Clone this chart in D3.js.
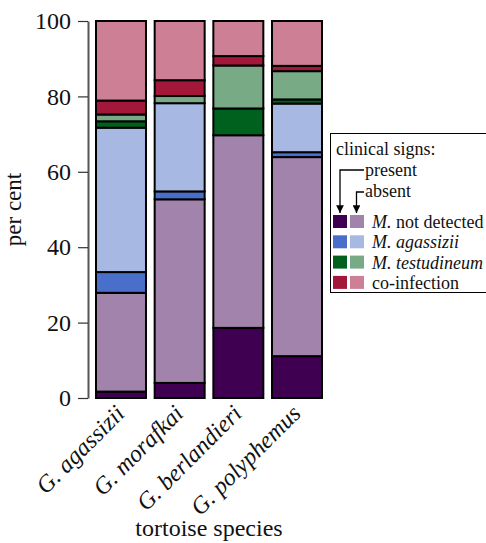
<!DOCTYPE html>
<html>
<head>
<meta charset="utf-8">
<script src="https://cdn.jsdelivr.net/npm/d3@7"></script>
<style>
  body { margin: 0; background: #fff; }
  svg, svg text { font-family: "Liberation Serif", "Times New Roman", Times, serif; }
</style>
</head>
<body>
<div id="chart"></div>
<script>
// species on the x axis
const species = ["G. agassizii", "G. morafkai", "G. berlandieri", "G. polyphemus"];

// per cent of tortoises in each group, bottom to top
const ndPresent = [1.7, 4.0, 18.6, 11.1];
const ndAbsent  = [26.2, 48.7, 51.1, 52.8];
const agPresent = [5.5, 2.1, 0, 1.3];
const agAbsent  = [38.3, 23.4, 0, 12.9];
const tePresent = [1.7, 0, 7.1, 1.1];
const teAbsent  = [1.8, 1.9, 11.4, 7.5];
const coPresent = [3.7, 4.2, 2.5, 1.4];
const coAbsent  = [21.1, 15.7, 9.3, 11.9];

const yTicks = [0, 20, 40, 60, 80, 100];

const keys = ["ndP", "ndA", "agP", "agA", "teP", "teA", "coP", "coA"];
const colors = {
  ndP: "#3f0052", ndA: "#a283ab",
  agP: "#4a6fca", agA: "#a7b9e3",
  teP: "#00611f", teA: "#79aa86",
  coP: "#a3173a", coA: "#cd8095"
};

// build table for d3.stack
const table = species.map((s, i) => ({
  species: s,
  ndP: ndPresent[i], ndA: ndAbsent[i],
  agP: agPresent[i], agA: agAbsent[i],
  teP: tePresent[i], teA: teAbsent[i],
  coP: coPresent[i], coA: coAbsent[i]
}));

const svg = d3.select("#chart").append("svg").attr("width", 486).attr("height", 543);

const x = d3.scaleBand().domain(species).range([96, 322]).paddingInner(0.148).paddingOuter(0);
const y = d3.scaleLinear().domain([0, 100]).range([398, 21]);

const stacked = d3.stack().keys(keys)(table);

// bars
svg.append("g").selectAll("g")
  .data(stacked)
  .join("g")
  .attr("fill", d => colors[d.key])
  .selectAll("rect")
  .data(d => d.filter(v => v[1] - v[0] > 0))
  .join("rect")
  .attr("x", d => x(d.data.species))
  .attr("width", x.bandwidth())
  .attr("y", d => y(d[1]))
  .attr("height", d => y(d[0]) - y(d[1]))
  .attr("stroke", "#000")
  .attr("stroke-width", 2);

// y axis
const yAxis = d3.axisLeft(y).tickValues(yTicks).tickSize(10).tickSizeOuter(0).tickPadding(7);
const yg = svg.append("g").attr("transform", "translate(88,0)").call(yAxis);
yg.attr("font-family", null);
yg.select(".domain").attr("stroke", "#555").attr("stroke-width", 2);
yg.selectAll(".tick line").attr("stroke", "#333").attr("stroke-width", 1.2);
yg.selectAll(".tick text")
  .attr("font-size", 24)
  .attr("fill", "#111");

svg.append("text")
  .attr("transform", "translate(21," + y(50) + ") rotate(-90)")
  .attr("text-anchor", "middle")
  .attr("font-size", 23)
  .attr("fill", "#111")
  .text("per cent");

// x labels, rotated
svg.append("g").selectAll("text")
  .data(species)
  .join("text")
  .attr("transform", d => "translate(" + (x(d) + x.bandwidth() / 2 + 5) + ",415) rotate(-45)")
  .attr("text-anchor", "end")
  .attr("font-size", 24)
  .attr("font-style", "italic")
  .attr("fill", "#111")
  .text(d => d);

svg.append("text")
  .attr("x", 209)
  .attr("y", 536)
  .attr("text-anchor", "middle")
  .attr("font-size", 24)
  .attr("fill", "#111")
  .text("tortoise species");

// legend
const lg = svg.append("g");
lg.append("rect")
  .attr("x", 330.5).attr("y", 133.5)
  .attr("width", 170).attr("height", 159)
  .attr("fill", "#fff").attr("stroke", "#000").attr("stroke-width", 1);

lg.append("text").attr("x", 336).attr("y", 155).attr("font-size", 18).attr("fill", "#111").text("clinical signs:");
lg.append("text").attr("x", 365).attr("y", 176).attr("font-size", 18).attr("fill", "#111").text("present");
lg.append("text").attr("x", 365).attr("y", 197).attr("font-size", 18).attr("fill", "#111").text("absent");

svg.append("defs").append("marker")
  .attr("id", "arr").attr("viewBox", "0 0 10 10")
  .attr("refX", 10).attr("refY", 5)
  .attr("markerWidth", 6).attr("markerHeight", 6)
  .attr("orient", "auto")
  .append("path").attr("d", "M0,0L10,5L0,10Z").attr("fill", "#000");

const colP = 340, colA = 356.5;
lg.append("path")
  .attr("d", "M364,170H" + colP + "V213")
  .attr("fill", "none").attr("stroke", "#000").attr("stroke-width", 1.3)
  .attr("marker-end", "url(#arr)");
lg.append("path")
  .attr("d", "M364,192H" + colA + "V213")
  .attr("fill", "none").attr("stroke", "#000").attr("stroke-width", 1.3)
  .attr("marker-end", "url(#arr)");

const legendRows = [
  { p: "ndP", a: "ndA", it: "M.", rest: " not detected" },
  { p: "agP", a: "agA", it: "M. agassizii", rest: "" },
  { p: "teP", a: "teA", it: "M. testudineum", rest: "" },
  { p: "coP", a: "coA", it: "", rest: "co-infection" }
];

const rows = lg.selectAll("g.row")
  .data(legendRows)
  .join("g")
  .attr("class", "row")
  .attr("transform", (d, i) => "translate(0," + (215 + i * 20.3) + ")");
rows.append("rect").attr("x", 333).attr("y", 0).attr("width", 14).attr("height", 13).attr("fill", d => colors[d.p]);
rows.append("rect").attr("x", 350).attr("y", 0).attr("width", 14).attr("height", 13).attr("fill", d => colors[d.a]);
const rt = rows.append("text").attr("x", 372).attr("y", 13).attr("font-size", 18).attr("fill", "#111");
rt.append("tspan").attr("font-style", "italic").text(d => d.it);
rt.append("tspan").text(d => d.rest);
</script>
</body>
</html>
